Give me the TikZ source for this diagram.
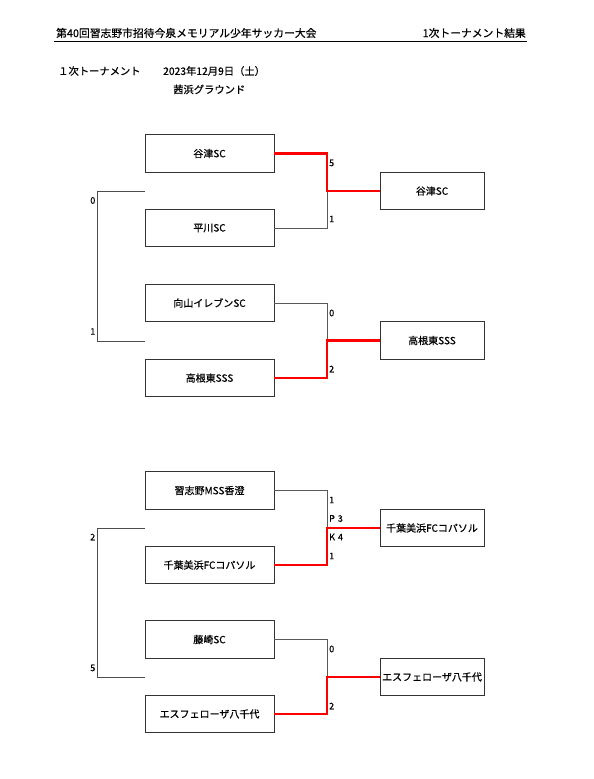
\documentclass[tikz,border=0pt]{standalone}
\usepackage{fontspec}
\setmainfont{Noto Sans CJK JP}[RawFeature={embolden=0.6}]
\begin{document}
\begin{tikzpicture}[x=1pt,y=-1pt,
  team/.style={draw=black!80,line width=0.8pt,minimum width=129pt,minimum height=37.5pt,inner sep=0pt,font=\fontsize{10}{11}\selectfont},
  win/.style={draw=black!80,line width=0.8pt,minimum width=104pt,minimum height=37.5pt,inner sep=0pt,font=\fontsize{10}{11}\selectfont},
  loser/.style={draw=black!65,line width=0.8pt},
  winner/.style={draw=red,line width=2.8pt},
  bracket/.style={draw=black!70,line width=0.8pt},
  score/.style={inner sep=0pt,font=\fontsize{9}{10}\selectfont}]
\useasboundingbox (0,0) rectangle (594,779);
\fill[white] (0,0) rectangle (594,779);
% header
\node[anchor=west,inner sep=0pt,font=\fontsize{10.8}{12}\selectfont] (title) at (56,33) {第40回習志野市招待今泉メモリアル少年サッカー大会};
\node[anchor=east,inner sep=0pt,font=\fontsize{10.8}{12}\selectfont] (res) at (526,33) {1次トーナメント結果};
\coordinate (ulA) at (54,41);
\coordinate (ulB) at (527,41);
\draw[line width=0.9pt] (ulA) -- (ulB);
\node[anchor=west,inner sep=0pt,font=\fontsize{10.3}{12}\selectfont] (sub) at (58,71) {１次トーナメント};
\node[anchor=west,inner sep=0pt,font=\fontsize{10.3}{12}\selectfont] (date) at (163,71) {2023年12月9日（土）};
\node[anchor=west,inner sep=0pt,font=\fontsize{10.3}{12}\selectfont] (place) at (173,89.5) {茜浜グラウンド};
% teams
\node[team] (t1) at (209.5,153.5) {谷津SC};
\node[team] (t2) at (209.5,228) {平川SC};
\node[team] (t3) at (209.5,303) {向山イレブンSC};
\node[team] (t4) at (209.5,378) {高根東SSS};
\node[team] (t5) at (209.5,490.5) {習志野MSS香澄};
\node[team] (t6) at (209.5,565) {千葉美浜FCコパソル};
\node[team] (t7) at (209.5,639.5) {藤崎SC};
\node[team] (t8) at (209.5,714) {エスフェローザ八千代};
\node[win] (w1) at (432,191) {谷津SC};
\node[win] (w2) at (432,340.5) {高根東SSS};
\node[win] (w3) at (432,528) {千葉美浜FCコパソル};
\node[win] (w4) at (432,677) {エスフェローザ八千代};
% junctions
\coordinate (j1) at (327,191);
\coordinate (j2) at (327,340.5);
\coordinate (j3) at (327,528);
\coordinate (j4) at (327,677);
% match 1
\draw[loser] (t2.east) -| (j1);
\draw[winner,line join=miter] (t1.east) -| (j1) -- (w1.west);
% match 2
\draw[loser] (t3.east) -| (j2);
\draw[winner,line join=miter] (t4.east) -| (j2) -- (w2.west);
% match 3
\draw[loser] (t5.east) -| (j3);
\draw[winner,line join=miter] (t6.east) -| (j3) -- (w3.west);
% match 4
\draw[loser] (t7.east) -| (j4);
\draw[winner,line join=miter] (t8.east) -| (j4) -- (w4.west);
% scores
\node[score,anchor=west] (s1) at (329,163) {5};
\node[score,anchor=west] (s2) at (329,219) {1};
\node[score,anchor=west] (s3) at (329,313) {0};
\node[score,anchor=west] (s4) at (329,369) {2};
\node[score,anchor=west] (s5) at (329,500) {1};
\node[score,anchor=west] (s5p) at (329,518.5) {P\,\,3};
\node[score,anchor=west] (s6k) at (329,537) {K\,\,4};
\node[score,anchor=west] (s6) at (329,556) {1};
\node[score,anchor=west] (s7) at (329,649) {0};
\node[score,anchor=west] (s8) at (329,706) {2};
% left brackets
\coordinate (a1) at (145,191);
\coordinate (a2) at (145,341);
\coordinate (a3) at (145,528);
\coordinate (a4) at (145,677);
\draw[bracket] (a1) -- (97,191) -- (97,341) -- (a2);
\draw[bracket] (a3) -- (97,528) -- (97,677) -- (a4);
\node[score,anchor=east] (l1) at (95.5,200.5) {0};
\node[score,anchor=east] (l2) at (95.5,331.5) {1};
\node[score,anchor=east] (l3) at (95.5,537) {2};
\node[score,anchor=east] (l4) at (95.5,668) {5};
\end{tikzpicture}
\end{document}
